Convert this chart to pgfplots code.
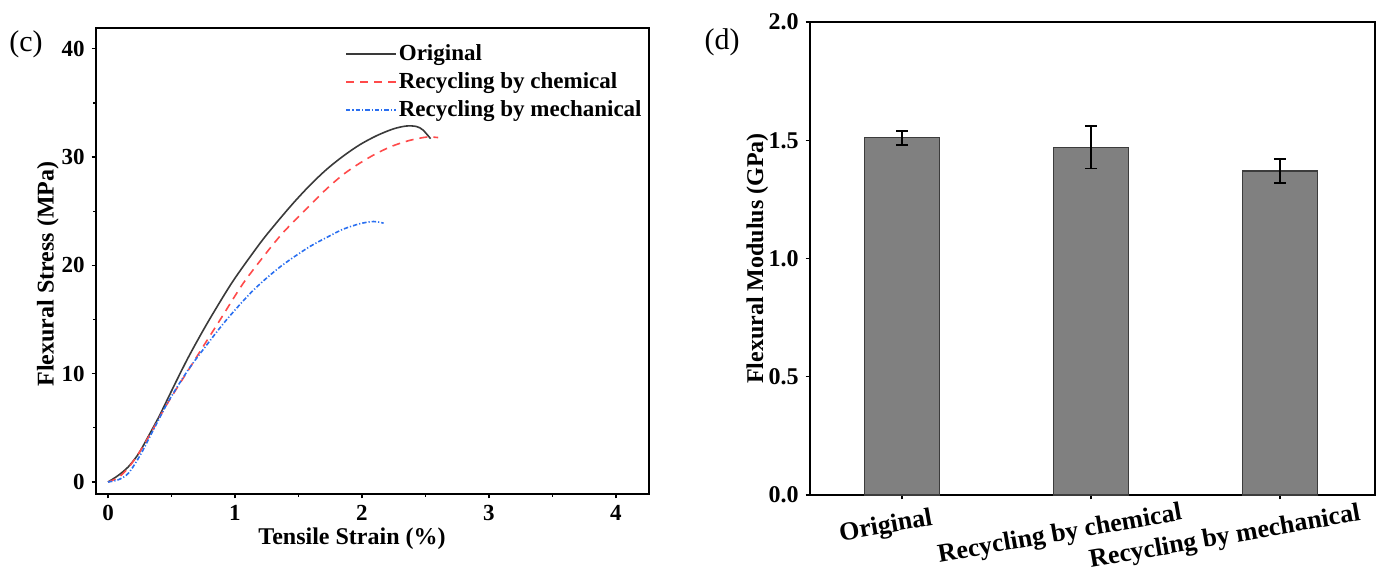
\documentclass[border=0pt]{standalone}
\usepackage{fontspec}
\setmainfont{Liberation Serif}
\usepackage{pgfplots}
\pgfplotsset{compat=1.18}
\definecolor{cblack}{HTML}{3A3A3A}
\definecolor{cred}{HTML}{FF4A4A}
\definecolor{cblue}{HTML}{2A6FF0}
\definecolor{barfill}{HTML}{808080}
\definecolor{baredge}{HTML}{3C3C3C}
\begin{document}
\begin{tikzpicture}
\useasboundingbox (0,0) rectangle (689.5pt,-286pt);
\node[font=\fontsize{15}{15}\selectfont] at (13pt,-22pt) {(c)};
\node[font=\fontsize{15}{15}\selectfont] at (361pt,-21pt) {(d)};
\begin{axis}[
  at={(48pt,-247pt)}, anchor=south west,
  scale only axis, width=276.5pt, height=233pt,
  xmin=-0.0945, xmax=4.26, ymin=-1.11, ymax=41.92,
  xtick={0,1,2,3,4}, ytick={0,10,20,30,40},
  minor x tick num=1, minor y tick num=1,
  tick align=outside, tick pos=left,
  major tick length=2.2pt, minor tick length=1.3pt,
  every tick/.style={black, line width=0.6pt},
  axis line style={line width=0.9pt},
  /pgf/number format/assume math mode=true,
  ticklabel style={font=\bfseries\fontsize{11.5}{12}\selectfont},
  xlabel={Tensile Strain (\%)}, ylabel={Flexural Stress (MPa)},
  label style={font=\bfseries\fontsize{12}{14}\selectfont},
  xlabel style={at={(rel axis cs:0.463,-0.095)}, anchor=center},
  ylabel style={at={(rel axis cs:-0.087,0.472)}, anchor=center, rotate=0},
  legend style={at={(rel axis cs:0.450,0.975)}, anchor=north west, draw=none, fill=none,
    inner sep=0pt, font=\bfseries\fontsize{11.5}{12}\selectfont,
    nodes={inner sep=1pt, text height=9pt, text depth=3pt}},
  legend cell align=left,
  legend image code/.code={\draw[#1] (0pt,0pt) -- (25pt,0pt);},
]
\addplot[cblack, line width=0.8pt, smooth] coordinates {
(0,0) (0.08,0.6) (0.16,1.4) (0.24,2.6) (0.317,4.2) (0.4,6.0) (0.475,7.8) (0.55,9.6) (0.632,11.5) (0.73,13.6) (0.829,15.6) (0.987,18.6) (1.197,22.04) (1.328,23.95) (1.459,25.75) (1.59,27.4) (1.72,28.85) (1.853,30.1) (1.984,31.15) (2.116,31.98) (2.246,32.6) (2.35,32.87) (2.43,32.82) (2.48,32.5) (2.54,31.7)};
\addlegendentry{Original}
\addplot[cred, line width=0.8pt, dash pattern=on 4pt off 3pt, smooth] coordinates {
(0,0) (0.08,0.4) (0.16,1.3) (0.25,2.8) (0.344,4.65) (0.45,6.9) (0.55,8.8) (0.65,10.65) (0.738,12.3) (0.882,14.96) (1.065,18.35) (1.25,21.2) (1.354,22.7) (1.433,23.7) (1.59,25.55) (1.72,27.05) (1.853,28.4) (1.984,29.45) (2.116,30.35) (2.246,31.05) (2.378,31.55) (2.51,31.85) (2.6,31.8)};
\addlegendentry{Recycling by chemical}
\addplot[cblue, line width=0.8pt, dash pattern=on 2.2pt off 1pt on 0.6pt off 1pt, smooth] coordinates {
(0,0) (0.08,0.2) (0.16,0.8) (0.25,2.4) (0.344,4.5) (0.45,6.9) (0.53,8.5) (0.64,10.5) (0.764,12.45) (0.935,15.0) (1.144,17.7) (1.354,19.85) (1.577,21.65) (1.75,22.75) (1.853,23.35) (1.984,23.85) (2.09,24.05) (2.17,23.9)};
\addlegendentry{Recycling by mechanical}
\end{axis}
\begin{axis}[
  at={(405pt,-247.5pt)}, anchor=south west,
  scale only axis, width=282.5pt, height=236.5pt,
  xmin=-0.487, xmax=2.503, ymin=0, ymax=2,
  xtick={0,1,2}, xticklabels={},
  ytick={0,0.5,1,1.5,2},
  tick align=outside, tick pos=left,
  major tick length=2.2pt,
  every tick/.style={black, line width=0.6pt},
  axis line style={line width=0.9pt},
  clip=false,
  /pgf/number format/assume math mode=true,
  /pgf/number format/.cd, fixed, fixed zerofill, precision=1, /pgfplots/.cd,
  ticklabel style={font=\bfseries\fontsize{12}{13}\selectfont},
  ylabel={Flexural Modulus (GPa)},
  label style={font=\bfseries\fontsize{12}{14}\selectfont},
  ylabel style={at={(rel axis cs:-0.093,0.5)}, anchor=center},
]
\addplot[ybar, bar width=0.40, fill=barfill, draw=baredge, line width=0.6pt,
  error bars/.cd, y dir=both, y explicit,
  error bar style={black, line width=0.8pt},
  error mark options={rotate=90, mark size=3pt, line width=0.8pt, black}]
  coordinates {(0,1.51) +- (0,0.03) (1,1.47) +- (0,0.09) (2,1.37) +- (0,0.05)};
\node[rotate=10, inner sep=0pt, font=\bfseries\fontsize{13}{14}\selectfont] at ([xshift=-8pt,yshift=-16pt]axis cs:0,0) {Original};
\node[rotate=10, inner sep=0pt, font=\bfseries\fontsize{13}{14}\selectfont] at ([xshift=-15.5pt,yshift=-20pt]axis cs:1,0) {Recycling by chemical};
\node[rotate=10, inner sep=0pt, font=\bfseries\fontsize{13}{14}\selectfont] at ([xshift=-27.5pt,yshift=-21.5pt]axis cs:2,0) {Recycling by mechanical};
\end{axis}
\end{tikzpicture}
\end{document}
